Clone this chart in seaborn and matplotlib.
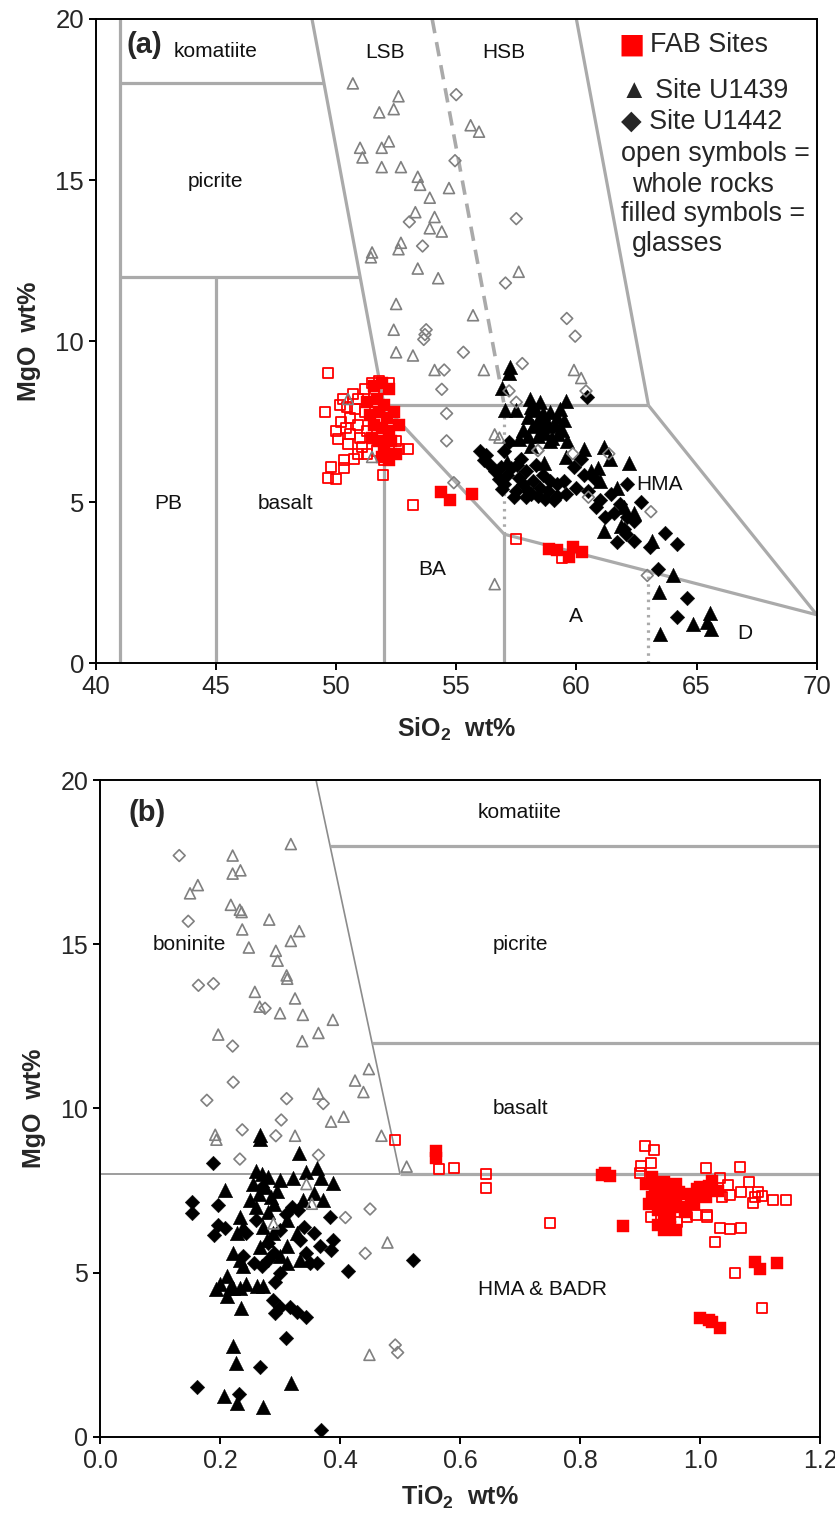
import numpy as np
import pandas as pd
import matplotlib
matplotlib.use("Agg")
import matplotlib.pyplot as plt
from matplotlib import font_manager
import seaborn as sns

# ---------------- panel (a): SiO2 vs MgO ----------------
# FAB whole rocks (open red squares)
a_fab_wr_sio2 = [49.65, 49.55, 49.8, 49.65, 50.0, 50.15, 50.1, 50.35, 50.35, 50.75, 51.3, 51.95,
                 53.0, 52.6, 53.2, 57.5, 59.4, 50.4, 50.6, 50.8, 50.9, 51.0, 50.5, 50.2, 50.7,
                 51.2, 51.5, 51.8, 51.3, 51.1, 50.9, 50.45, 50.9, 51.6, 52.2, 51.2, 50.6, 52.3,
                 52.0, 52.5, 51.7, 50.0, 50.3]
a_fab_wr_mgo = [9.0, 7.8, 6.1, 5.75, 5.7, 8.0, 6.95, 6.05, 6.3, 6.35, 6.5, 5.85,
                6.65, 6.65, 4.9, 3.85, 3.25, 7.3, 7.6, 7.9, 8.2, 7.0, 6.8, 7.5, 8.35,
                8.5, 8.7, 8.75, 7.2, 6.7, 6.5, 7.95, 7.4, 8.4, 8.7, 7.8, 7.1, 6.5,
                6.3, 6.9, 6.6, 7.2, 8.2]
# FAB glasses (filled red squares)
a_fab_gl_sio2 = [54.35, 54.75, 55.65, 58.85, 59.2, 59.85, 60.25, 59.7, 51.6, 51.9, 52.2, 51.7,
                 52.0, 51.8, 52.1, 51.6, 51.9, 52.2, 51.5, 51.8, 52.3, 52.0, 52.5, 52.2, 51.9,
                 52.4, 51.4, 51.3, 52.6]
a_fab_gl_mgo = [5.3, 5.05, 5.25, 3.55, 3.5, 3.6, 3.45, 3.3, 8.6, 8.7, 8.5, 8.2,
                8.0, 7.8, 7.6, 7.4, 7.3, 7.2, 7.0, 6.9, 6.9, 6.6, 6.5, 6.3, 6.4,
                7.8, 7.7, 8.1, 7.4]
# Site U1439 whole rocks (open grey triangles)
a_u1439_wr_sio2 = [50.7, 52.6, 51.8, 52.4, 51.0, 51.1, 51.9, 52.2, 51.9, 52.7, 53.4, 53.5, 53.9,
                   54.7, 55.6, 55.95, 53.3, 54.1, 53.9, 54.4, 51.5, 51.45, 52.7, 52.6, 53.4,
                   54.25, 57.6, 52.5, 55.7, 52.4, 52.5, 53.2, 54.1, 56.15, 59.9, 60.2, 50.5,
                   56.6, 56.8, 51.5, 56.6]
a_u1439_wr_mgo = [18.0, 17.6, 17.1, 17.2, 16.0, 15.7, 16.0, 16.2, 15.4, 15.4, 15.1, 14.85, 14.45,
                  14.75, 16.7, 16.5, 14.0, 13.85, 13.5, 13.4, 12.75, 12.6, 13.05, 12.85, 12.25,
                  11.95, 12.15, 11.15, 10.8, 10.35, 9.65, 9.55, 9.1, 9.1, 9.1, 8.85, 8.2,
                  7.1, 7.0, 6.4, 2.45]
# Site U1442 whole rocks (open grey diamonds)
a_u1442_wr_sio2 = [55.0, 54.95, 57.5, 53.05, 53.6, 57.05, 59.6, 59.95, 53.7, 53.75, 53.65, 55.3,
                   54.5, 57.75, 54.4, 57.2, 57.5, 54.6, 54.6, 58.4, 54.9, 60.5, 63.1, 62.95,
                   60.4, 61.35, 58.4, 59.85]
a_u1442_wr_mgo = [17.65, 15.6, 13.8, 13.7, 12.95, 11.8, 10.7, 10.15, 10.2, 10.35, 10.05, 9.65,
                  9.1, 9.3, 8.5, 8.45, 8.1, 7.75, 6.9, 6.6, 5.6, 5.15, 4.7, 2.72,
                  8.45, 6.5, 6.6, 6.5]
# Site U1439 glasses (filled black triangles)
a_u1439_gl_sio2 = [57.25, 57.2, 56.9, 58.05, 58.5, 59.55, 57.05, 57.5, 58.0, 58.3, 58.6, 58.9,
                   59.2, 58.5, 58.8, 59.1, 59.4, 58.2, 58.7, 59.0, 59.6, 58.4, 57.8, 58.9,
                   57.6, 58.1, 58.65, 59.55, 60.3, 61.15, 61.4, 62.2, 61.15, 61.85, 63.15,
                   64.0, 63.45, 63.5, 64.85, 65.55, 65.6, 65.45, 60.6, 61.0, 61.7, 62.0,
                   62.4, 60.9, 57.1, 58.1, 58.45, 59.3, 58.75, 59.5, 58.0, 59.25, 58.55]
a_u1439_gl_mgo = [9.2, 9.0, 8.55, 8.2, 8.1, 8.15, 7.85, 7.85, 7.65, 7.85, 7.75, 7.8,
                  7.65, 7.45, 7.35, 7.4, 7.25, 7.35, 7.15, 7.0, 6.9, 7.05, 7.25, 6.9,
                  6.95, 6.75, 6.2, 6.4, 6.65, 6.7, 6.35, 6.2, 4.1, 4.25, 3.8,
                  2.72, 2.22, 0.9, 1.2, 1.56, 1.06, 1.26, 5.95, 5.65, 5.45, 4.85,
                  4.65, 6.05, 6.25, 7.95, 7.6, 7.9, 7.55, 7.55, 7.05, 7.1, 7.25]
# Site U1442 glasses (filled black diamonds)
a_u1442_gl_sio2 = [60.45, 56.0, 56.25, 56.15, 57.0, 56.85, 56.9, 58.1, 59.05, 59.55, 59.9, 60.3,
                   60.75, 61.45, 62.1, 62.7, 61.55, 62.1, 62.4, 61.7, 62.05, 62.4, 63.05, 63.7,
                   64.2, 63.4, 64.6, 64.2, 57.3, 57.6, 57.9, 58.2, 58.5, 57.5, 58.8, 57.2,
                   57.7, 58.3, 56.6, 57.0, 58.6, 59.2, 60.0, 60.5, 61.0, 60.8, 61.2, 61.8,
                   62.0, 57.4, 59.5, 60.2, 57.9, 56.4, 57.1, 57.8, 58.0, 58.4, 58.7, 57.55,
                   58.9, 59.2, 56.8]
a_u1442_gl_mgo = [8.25, 6.6, 6.45, 6.3, 6.6, 6.1, 5.4, 5.25, 5.05, 5.25, 6.1, 5.85,
                  5.75, 5.25, 5.55, 5.0, 4.65, 4.55, 4.4, 3.75, 4.0, 3.8, 3.6, 4.05,
                  3.7, 2.93, 2.02, 1.42, 6.05, 5.75, 5.95, 5.65, 5.45, 5.35, 5.35, 6.85,
                  6.35, 6.15, 5.95, 5.55, 5.85, 5.55, 5.45, 5.35, 5.05, 4.85, 4.55, 4.95,
                  4.15, 5.15, 5.65, 6.35, 5.15, 6.15, 5.85, 5.55, 5.35, 5.2, 5.1, 6.15,
                  5.65, 5.2, 5.7]

# ---------------- panel (b): TiO2 vs MgO ----------------
b_fab_wr_tio2 = [0.492, 0.643, 0.643, 0.59, 0.75, 0.909, 0.923, 0.919, 0.901, 0.9, 1.01, 1.066,
                 1.033, 1.047, 1.081, 1.097, 1.069, 1.089, 1.122, 1.144, 1.05, 1.036, 1.092,
                 1.103, 1.011, 1.033, 1.05, 1.068, 1.025, 1.058, 1.104, 0.919, 0.961, 0.978,
                 0.994, 1.011, 0.944, 0.565]
b_fab_wr_mgo = [9.05, 8.0, 7.57, 8.2, 6.5, 8.86, 8.74, 8.35, 8.25, 8.03, 8.2, 8.23,
                7.87, 7.67, 7.77, 7.47, 7.47, 7.12, 7.21, 7.21, 7.37, 7.3, 7.32,
                7.34, 6.71, 6.35, 6.32, 6.37, 5.95, 4.98, 3.92, 6.7, 6.55, 6.7,
                6.76, 6.76, 6.55, 8.15]
b_fab_gl_tio2 = [0.842, 0.836, 0.85, 0.872, 1.092, 1.1, 1.129, 1.0, 1.015, 1.02, 1.033, 0.56,
                 0.56, 0.92, 0.93, 0.94, 0.95, 0.96, 0.97, 0.93, 0.94, 0.95, 0.94, 0.98,
                 1.0, 1.02, 1.01, 0.99, 0.96, 0.92, 0.91, 1.03, 0.945, 0.935, 0.925, 0.955,
                 0.965, 0.985, 0.995, 1.005, 0.94, 0.975, 0.95, 0.93, 0.915, 1.015, 0.96]
b_fab_gl_mgo = [8.03, 7.98, 7.95, 6.42, 5.34, 5.1, 5.31, 3.62, 3.55, 3.5, 3.32, 8.7,
                8.5, 7.9, 7.6, 7.3, 7.5, 7.2, 7.0, 6.9, 6.6, 6.4, 6.3, 7.4,
                7.6, 7.8, 7.3, 7.1, 7.7, 7.3, 7.7, 7.5, 6.85, 7.1, 7.45, 7.05,
                7.45, 7.25, 7.55, 7.45, 7.75, 6.85, 6.7, 6.45, 7.1, 7.65, 6.3]
b_u1439_wr_tio2 = [0.318, 0.221, 0.221, 0.234, 0.163, 0.15, 0.218, 0.233, 0.236, 0.282, 0.237,
                   0.332, 0.318, 0.248, 0.293, 0.296, 0.311, 0.312, 0.258, 0.325, 0.266, 0.3,
                   0.338, 0.388, 0.364, 0.197, 0.337, 0.448, 0.425, 0.439, 0.364, 0.406, 0.385,
                   0.469, 0.192, 0.194, 0.325, 0.479, 0.449, 0.511, 0.289, 0.353, 0.344]
b_u1439_wr_mgo = [18.05, 17.7, 17.15, 17.25, 16.8, 16.55, 16.2, 16.05, 15.98, 15.75, 15.45,
                  15.4, 15.1, 14.9, 14.8, 14.5, 14.05, 13.95, 13.55, 13.35, 13.1, 12.9,
                  12.85, 12.7, 12.3, 12.25, 12.05, 11.2, 10.85, 10.5, 10.45, 9.75, 9.6,
                  9.17, 9.2, 9.05, 9.17, 5.92, 2.5, 8.23, 6.5, 7.1, 7.7]
b_u1442_wr_tio2 = [0.132, 0.147, 0.164, 0.189, 0.275, 0.221, 0.222, 0.178, 0.311, 0.372, 0.302,
                   0.237, 0.293, 0.364, 0.233, 0.409, 0.45, 0.442, 0.492, 0.496]
b_u1442_wr_mgo = [17.7, 15.7, 13.75, 13.8, 13.05, 11.9, 10.8, 10.25, 10.3, 10.15, 9.65,
                  9.35, 9.17, 8.58, 8.46, 6.68, 6.94, 5.59, 2.8, 2.57]
b_u1439_gl_tio2 = [0.267, 0.267, 0.332, 0.3, 0.322, 0.344, 0.361, 0.369, 0.389, 0.339, 0.356,
                   0.372, 0.208, 0.233, 0.239, 0.228, 0.272, 0.278, 0.267, 0.26, 0.27, 0.28,
                   0.255, 0.275, 0.265, 0.285, 0.29, 0.26, 0.28, 0.295, 0.25, 0.289, 0.311,
                   0.3, 0.311, 0.333, 0.328, 0.311, 0.222, 0.233, 0.239, 0.211, 0.2, 0.217,
                   0.194, 0.222, 0.211, 0.233, 0.244, 0.261, 0.272, 0.235, 0.222, 0.226,
                   0.319, 0.207, 0.229, 0.272]
b_u1439_gl_mgo = [9.2, 9.08, 8.64, 7.82, 7.88, 8.08, 8.18, 7.88, 7.74, 7.21, 7.42,
                  7.21, 7.52, 6.71, 6.4, 6.2, 6.4, 6.0, 5.79, 8.1, 8.0, 7.9,
                  7.7, 7.6, 7.4, 7.3, 7.1, 7.0, 6.85, 7.5, 7.2, 6.2, 5.8,
                  5.5, 5.3, 5.4, 6.2, 6.6, 5.6, 5.4, 5.2, 4.9, 4.65, 4.55,
                  4.5, 4.55, 4.3, 4.55, 4.65, 4.6, 4.6, 3.92, 2.77, 2.24,
                  1.63, 1.25, 1.04, 0.92]
b_u1442_gl_tio2 = [0.189, 0.153, 0.153, 0.197, 0.196, 0.208, 0.19, 0.383, 0.521, 0.414, 0.385,
                   0.389, 0.361, 0.35, 0.333, 0.356, 0.367, 0.344, 0.292, 0.289, 0.3, 0.292,
                   0.317, 0.328, 0.343, 0.31, 0.267, 0.161, 0.232, 0.369, 0.244, 0.256, 0.239,
                   0.3, 0.28, 0.29, 0.27, 0.31, 0.32, 0.26, 0.3, 0.28, 0.34, 0.27, 0.33]
b_u1442_gl_mgo = [8.33, 7.16, 6.81, 7.06, 6.45, 6.35, 6.15, 6.71, 5.39, 5.06, 5.69,
                  6.0, 5.29, 5.29, 6.0, 6.2, 5.8, 5.6, 4.73, 4.17, 3.97, 3.77,
                  3.97, 3.81, 3.66, 3.0, 2.14, 1.51, 1.31, 0.21, 6.2, 5.3, 5.5,
                  6.3, 5.9, 5.6, 5.2, 6.8, 7.0, 6.6, 5.0, 5.4, 6.4, 7.6, 6.9]

# ---------------- classification field boundaries ----------------
a_solid_lines = [
    [(41, 0), (41, 20)],
    [(41, 18), (49.5, 18)],
    [(41, 12), (51, 12)],
    [(45, 0), (45, 12)],
    [(52, 0), (52, 8)],
    [(49, 20), (52, 8)],
    [(52, 8), (63, 8)],
    [(60, 20), (63, 8)],
    [(63, 8), (70, 1.5)],
    [(52, 8), (57, 4), (63, 2.85), (70, 1.5)],
    [(57, 0), (57, 4)],
]
a_dashed_lines = [[(54, 20), (57, 8)]]
a_dotted_lines = [[(57, 4), (57, 8)], [(63, 0), (63, 2.85)]]

b_thin_lines = [[(0.36, 20), (0.5, 8)], [(0.0, 8), (0.5, 8)]]
b_thick_lines = [[(0.5, 8), (1.2, 8)], [(0.383, 18), (1.2, 18)], [(0.453, 12), (1.2, 12)]]

a_field_labels = [("komatiite", 45.0, 19.0), ("picrite", 45.0, 14.95), ("PB", 43.0, 4.95),
                  ("basalt", 47.9, 4.95), ("LSB", 52.05, 18.95), ("HSB", 57.0, 18.95),
                  ("BA", 54.0, 2.9), ("A", 60.0, 1.45), ("D", 67.0, 0.92), ("HMA", 63.45, 5.55)]
b_field_labels = [("komatiite", 0.70, 19.0), ("picrite", 0.70, 14.98), ("basalt", 0.70, 10.0),
                  ("boninite", 0.149, 14.98), ("HMA & BADR", 0.737, 4.5)]

# key block beside panel (a): (text, SiO2 position, MgO position)
key_lines = [("FAB Sites", 63.07, 19.2), ("▲ Site U1439", 61.85, 17.75),
             ("◆ Site U1442", 61.85, 16.8), ("open symbols =", 61.85, 15.8),
             ("whole rocks", 62.32, 14.86), ("filled symbols =", 61.85, 13.93),
             ("glasses", 62.32, 13.0)]

GREY_LINE = "#aaaaaa"
GREY_MARK = "#808080"
RED = "#ff0000"

sns.set_style("ticks")
plt.rcParams["font.family"] = ["Liberation Sans", "DejaVu Sans"]
plt.rcParams["mathtext.fontset"] = "custom"
plt.rcParams["mathtext.rm"] = "Liberation Sans"
plt.rcParams["mathtext.bf"] = "Liberation Sans:bold"

installed = {f.name for f in font_manager.fontManager.ttflist}
if "Liberation Sans Narrow" in installed:
    narrow_family, narrow_size = "Liberation Sans Narrow", 20.5
else:
    narrow_family, narrow_size = "Liberation Sans", 18.0

fig = plt.figure(figsize=(8.35, 15.19), dpi=100)
ax_a = fig.add_axes([0.1146, 0.5635, 0.8635, 0.4240])
ax_b = fig.add_axes([0.1198, 0.0540, 0.8623, 0.4325])


def draw_lines(ax, segs, color, lw, ls="-", z=1):
    for seg in segs:
        xs, ys = zip(*seg)
        ax.plot(xs, ys, color=color, lw=lw, ls=ls, zorder=z, solid_capstyle="butt")


def scatter(ax, x, y, marker, size, face, edge, lw, z):
    df = pd.DataFrame({"x": x, "y": y})
    sns.scatterplot(data=df, x="x", y="y", ax=ax, marker=marker, s=size,
                    facecolor=face, edgecolor=edge, linewidth=lw, zorder=z, legend=False)


def draw_series(ax, fab_wr, fab_gl, u39_wr, u42_wr, u39_gl, u42_gl):
    scatter(ax, *u42_gl, "D", 55, "black", "black", 0.3, 3)
    scatter(ax, *u39_gl, "^", 110, "black", "black", 0.3, 3)
    scatter(ax, *fab_gl, "s", 80, RED, RED, 0.3, 4)
    scatter(ax, *fab_wr, "s", 52, "none", RED, 1.3, 5)
    scatter(ax, *u42_wr, "D", 36, "none", GREY_MARK, 1.2, 6)
    scatter(ax, *u39_wr, "^", 62, "none", GREY_MARK, 1.2, 6)


def style_axes(ax, size, family):
    for sp in ax.spines.values():
        sp.set_visible(True)
        sp.set_linewidth(1.4)
        sp.set_color("black")
        sp.set_zorder(10)
    ax.tick_params(direction="out", length=5, width=1.4, labelsize=size, color="black",
                   top=False, right=False)
    for lab in ax.get_xticklabels() + ax.get_yticklabels():
        lab.set_family(family)


# ---- panel (a) ----
draw_lines(ax_a, a_solid_lines, GREY_LINE, 2.3)
draw_lines(ax_a, a_dashed_lines, GREY_LINE, 2.6, ls=(0, (4, 2.5)))
draw_lines(ax_a, a_dotted_lines, GREY_LINE, 2.3, ls=(0, (0.8, 1.6)))
draw_series(ax_a, (a_fab_wr_sio2, a_fab_wr_mgo), (a_fab_gl_sio2, a_fab_gl_mgo),
            (a_u1439_wr_sio2, a_u1439_wr_mgo), (a_u1442_wr_sio2, a_u1442_wr_mgo),
            (a_u1439_gl_sio2, a_u1439_gl_mgo), (a_u1442_gl_sio2, a_u1442_gl_mgo))
ax_a.set_xlim(40, 70)
ax_a.set_ylim(0, 20)
ax_a.set_xticks([40, 45, 50, 55, 60, 65, 70])
ax_a.set_yticks([0, 5, 10, 15, 20])
ax_a.set_xlabel(r"SiO$_\mathbf{2}$  wt%", fontsize=18, fontweight="bold", labelpad=12)
ax_a.set_ylabel("MgO  wt%", fontsize=18, fontweight="bold", labelpad=10)
style_axes(ax_a, 18.5, "Liberation Sans")
for txt, x, y in a_field_labels:
    ax_a.text(x, y, txt, fontsize=15, ha="center", va="center", color="#111111", zorder=7)
ax_a.text(41.3, 19.2, "(a)", fontsize=21, fontweight="bold", ha="left", va="center", zorder=7)

ax_a.text(62.3, 19.2, "■", color=RED, fontsize=20, family="DejaVu Sans",
          ha="center", va="center", zorder=7)
for txt, x, y in key_lines:
    ax_a.text(x, y, txt, fontsize=19.4, ha="left", va="center", zorder=7)

# ---- panel (b) ----
draw_lines(ax_b, b_thin_lines, "#8c8c8c", 1.2)
draw_lines(ax_b, b_thick_lines, GREY_LINE, 2.3)
draw_series(ax_b, (b_fab_wr_tio2, b_fab_wr_mgo), (b_fab_gl_tio2, b_fab_gl_mgo),
            (b_u1439_wr_tio2, b_u1439_wr_mgo), (b_u1442_wr_tio2, b_u1442_wr_mgo),
            (b_u1439_gl_tio2, b_u1439_gl_mgo), (b_u1442_gl_tio2, b_u1442_gl_mgo))
ax_b.set_xlim(0, 1.2)
ax_b.set_ylim(0, 20)
b_xticks = [0.0, 0.2, 0.4, 0.6, 0.8, 1.0, 1.2]
ax_b.set_xticks(b_xticks)
ax_b.set_xticklabels([f"{v:.1f}" for v in b_xticks])
ax_b.set_yticks([0, 5, 10, 15, 20])
ax_b.set_xlabel(r"TiO$_\mathbf{2}$  wt%", fontsize=18, fontweight="bold", labelpad=8)
ax_b.set_ylabel("MgO  wt%", fontsize=18, fontweight="bold", labelpad=10)
style_axes(ax_b, narrow_size, narrow_family)
for txt, x, y in b_field_labels:
    ax_b.text(x, y, txt, fontsize=15, ha="center", va="center", color="#111111", zorder=7)
ax_b.text(0.078, 19.0, "(b)", fontsize=21, fontweight="bold", ha="center", va="center", zorder=7)

fig.savefig("out.png", dpi=100)
